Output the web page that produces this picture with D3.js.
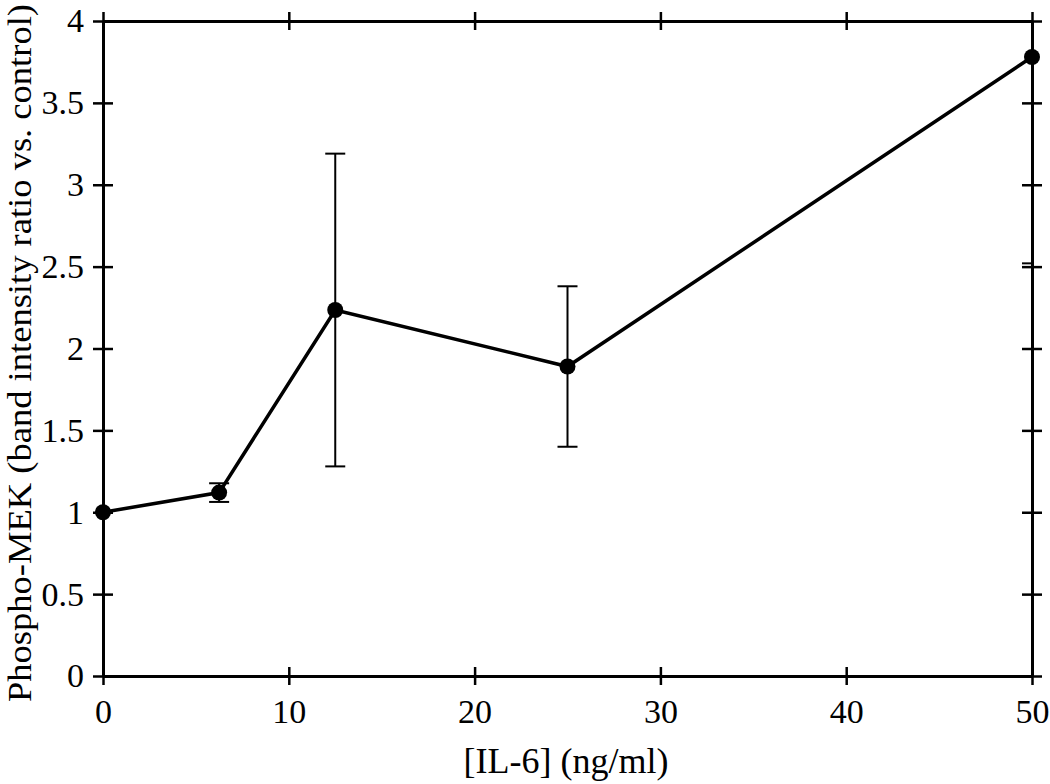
<!DOCTYPE html>
<html>
<head>
<meta charset="utf-8">
<script src="https://cdn.jsdelivr.net/npm/d3@7"></script>
<style>
  body { margin: 0; background: #fff; }
  svg text { font-family: "Liberation Serif", "Times New Roman", serif; fill: #000; }
</style>
</head>
<body>
<div id="chart"></div>
<script>
// IL-6 concentration (ng/ml) and phospho-MEK ratio
var doses = [0, 6.25, 12.5, 25, 50];
var ratios = [1.0, 1.12, 2.235, 1.89, 3.78];
var errors = [0, 0.057, 0.955, 0.49, 1.26];
var xTicks = [0, 10, 20, 30, 40, 50];
var yTicks = [0, 0.5, 1, 1.5, 2, 2.5, 3, 3.5, 4];

var margin = {top: 21, right: 18, bottom: 108, left: 103},
    width = 1050 - margin.left - margin.right,
    height = 784 - margin.top - margin.bottom;

var svg = d3.select("#chart").append("svg")
    .attr("width", 1050)
    .attr("height", 784);

var g = svg.append("g")
    .attr("transform", "translate(" + margin.left + "," + margin.top + ")");

var x = d3.scaleLinear().domain([0, 50]).range([0, width]);
var y = d3.scaleLinear().domain([0, 4]).range([height, 0]);

g.append("clipPath").attr("id", "plotclip")
    .append("rect")
    .attr("width", width)
    .attr("height", height);

var pts = doses.map(function(d, i) { return {x: d, y: ratios[i], e: errors[i]}; });

// error bars
var eb = g.append("g").attr("clip-path", "url(#plotclip)")
    .selectAll(".err")
    .data(pts.filter(function(d) { return d.e > 0; }))
    .enter().append("g")
    .attr("stroke", "#000")
    .attr("stroke-width", 2);

eb.append("line")
    .attr("x1", function(d) { return x(d.x); })
    .attr("x2", function(d) { return x(d.x); })
    .attr("y1", function(d) { return y(d.y - d.e); })
    .attr("y2", function(d) { return y(d.y + d.e); });

eb.append("line")
    .attr("x1", function(d) { return x(d.x) - 10; })
    .attr("x2", function(d) { return x(d.x) + 10; })
    .attr("y1", function(d) { return y(d.y + d.e); })
    .attr("y2", function(d) { return y(d.y + d.e); });

eb.append("line")
    .attr("x1", function(d) { return x(d.x) - 10; })
    .attr("x2", function(d) { return x(d.x) + 10; })
    .attr("y1", function(d) { return y(d.y - d.e); })
    .attr("y2", function(d) { return y(d.y - d.e); });

var line = d3.line()
    .x(function(d) { return x(d.x); })
    .y(function(d) { return y(d.y); });

g.append("path")
    .attr("d", line(pts))
    .attr("fill", "none")
    .attr("stroke", "#000")
    .attr("stroke-width", 3.5);

// axes: ticks cross the frame on every side
function styleAxis(sel) {
    sel.select(".domain").attr("stroke", "#000").attr("stroke-width", 3);
    sel.selectAll(".tick line").attr("stroke", "#000").attr("stroke-width", 2.5);
    sel.selectAll(".tick text").style("font-size", "34px");
}

g.append("g")
    .attr("transform", "translate(0," + height + ")")
    .call(d3.axisBottom(x).tickValues(xTicks).tickSize(9).tickSizeOuter(0).tickPadding(14).tickFormat(d3.format("d")))
    .call(styleAxis);
g.append("g")
    .attr("transform", "translate(0," + height + ")")
    .call(d3.axisTop(x).tickValues(xTicks).tickSize(9).tickSizeOuter(0).tickFormat(""))
    .call(styleAxis);

g.append("g")
    .call(d3.axisLeft(y).tickValues(yTicks).tickSize(10).tickSizeOuter(0).tickPadding(9).tickFormat(d3.format("")))
    .call(styleAxis);
g.append("g")
    .call(d3.axisRight(y).tickValues(yTicks).tickSize(10).tickSizeOuter(0).tickFormat(""))
    .call(styleAxis);

g.append("g")
    .call(d3.axisTop(x).tickValues(xTicks).tickSize(9).tickSizeOuter(0).tickFormat(""))
    .call(styleAxis);
g.append("g")
    .call(d3.axisBottom(x).tickValues(xTicks).tickSize(9).tickSizeOuter(0).tickFormat(""))
    .call(styleAxis);

g.append("g")
    .attr("transform", "translate(" + width + ",0)")
    .call(d3.axisRight(y).tickValues(yTicks).tickSize(10).tickSizeOuter(0).tickFormat(""))
    .call(styleAxis);
g.append("g")
    .attr("transform", "translate(" + width + ",0)")
    .call(d3.axisLeft(y).tickValues(yTicks).tickSize(10).tickSizeOuter(0).tickFormat(""))
    .call(styleAxis);

// markers
g.selectAll(".dot")
    .data(pts)
    .enter().append("circle")
    .attr("cx", function(d) { return x(d.x); })
    .attr("cy", function(d) { return y(d.y); })
    .attr("r", 8)
    .attr("fill", "#000");

svg.append("text")
    .attr("x", 566)
    .attr("y", 773)
    .attr("text-anchor", "middle")
    .style("font-size", "36px")
    .text("[IL-6] (ng/ml)");

svg.append("text")
    .attr("transform", "translate(31,702) rotate(-90)")
    .attr("text-anchor", "start")
    .attr("textLength", 698)
    .attr("lengthAdjust", "spacingAndGlyphs")
    .style("font-size", "34px")
    .text("Phospho-MEK (band intensity ratio vs. control)");
</script>
</body>
</html>
